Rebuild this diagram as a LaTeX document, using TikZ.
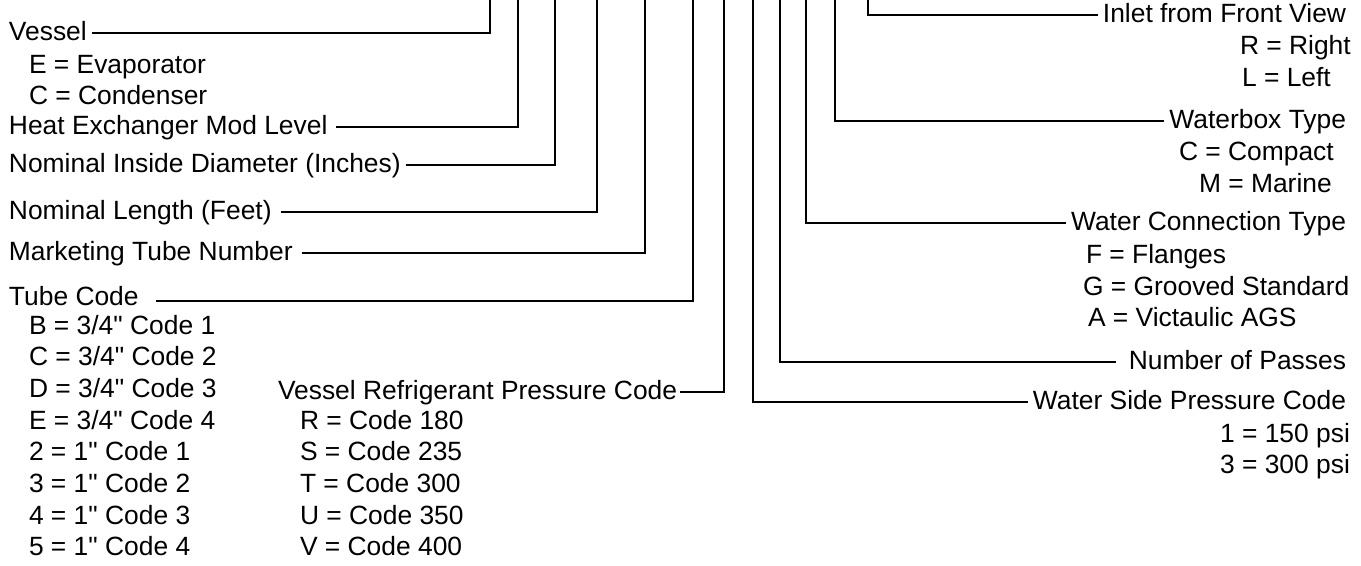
\documentclass[tikz,border=0pt]{standalone}
\usepackage{fontspec}
\setmainfont{Liberation Sans}

\begin{document}
\begin{tikzpicture}[x=0.5pt,y=-0.5pt,line width=1pt]
\tikzstyle{every node}=[inner sep=2pt,text height=0.72em,text depth=0pt,
	font=\fontsize{13.2}{16}\selectfont]
\tikzstyle{lbl}=[anchor=west]
\tikzstyle{rlbl}=[anchor=east]
\useasboundingbox (0,0) rectangle (1361,566);

% upper ends of the code lines
\coordinate (vesselTop) at (490,0);
\coordinate (modTop) at (518,0);
\coordinate (diamTop) at (555,0);
\coordinate (lengthTop) at (597,0);
\coordinate (tubeNoTop) at (645,0);
\coordinate (tubeTop) at (693,0);
\coordinate (refTop) at (724,0);
\coordinate (wspTop) at (753,0);
\coordinate (passTop) at (780,0);
\coordinate (connTop) at (806,0);
\coordinate (boxTop) at (835,0);
\coordinate (inletTop) at (868,0);

% left column
\node[lbl] (vessel) at (4,33) {Vessel};
\node[lbl] at (24,66) {E = Evaporator};
\node[lbl] at (24,97) {C = Condenser};
\node[lbl] (mod) at (4,127) {Heat Exchanger Mod Level};
\node[lbl] (diam) at (4,165) {Nominal Inside Diameter (Inches)};
\node[lbl] (length) at (4,212) {Nominal Length (Feet)};
\node[lbl] (tubeNo) at (4,253) {Marketing Tube Number};
\node[lbl] (tube) at (4,298) {Tube Code};
\node[lbl] at (24,327) {B = 3/4\textquotedbl{} Code 1};
\node[lbl] at (24,358) {C = 3/4\textquotedbl{} Code 2};
\node[lbl] at (24,390) {D = 3/4\textquotedbl{} Code 3};
\node[lbl] at (24,422) {E = 3/4\textquotedbl{} Code 4};
\node[lbl] at (24,453) {2 = 1\textquotedbl{} Code 1};
\node[lbl] at (24,485) {3 = 1\textquotedbl{} Code 2};
\node[lbl] at (24,517) {4 = 1\textquotedbl{} Code 3};
\node[lbl] at (24,548) {5 = 1\textquotedbl{} Code 4};

\node[lbl] (ref) at (273,392) {Vessel Refrigerant Pressure Code};
\node[lbl] at (295,422) {R = Code 180};
\node[lbl] at (295,453) {S = Code 235};
\node[lbl] at (295,485) {T = Code 300};
\node[lbl] at (295,517) {U = Code 350};
\node[lbl] at (295,548) {V = Code 400};

% right column
\node[rlbl] (inlet) at (1351,15) {Inlet from Front View};
\node[lbl] at (1235,47) {R = Right};
\node[lbl] at (1237,79) {L = Left};
\node[rlbl] (box) at (1351,121) {Waterbox Type};
\node[lbl] at (1174,153) {C = Compact};
\node[lbl] at (1194,185) {M = Marine};
\node[rlbl] (conn) at (1351,223) {Water Connection Type};
\node[lbl] at (1081,256) {F = Flanges};
\node[lbl] at (1078,288) {G = Grooved Standard};
\node[lbl] at (1083,319) {A = Victaulic AGS};
\node[rlbl] (pass) at (1351,362) {Number of Passes};
\node[rlbl] (wsp) at (1351,402) {Water Side Pressure Code};
\node[lbl] at (1215,435) {1 = 150 psi};
\node[lbl] at (1215,466) {3 = 300 psi};

% code lines
\draw (vessel.east) -| (vesselTop);
\draw ([xshift=2pt]mod.east) -| (modTop);
\draw (diam.east) -| (diamTop);
\draw ([xshift=2pt]length.east) -| (lengthTop);
\draw ([xshift=2pt]tubeNo.east) -| (tubeNoTop);
\draw ([xshift=6pt,yshift=-1.5pt]tube.east) -| (tubeTop);
\draw ([xshift=-1pt]ref.east) -| (refTop);
\draw (wsp.west) -| (wspTop);
\draw ([xshift=-4pt]pass.west) -| (passTop);
\draw (conn.west) -| (connTop);
\draw (box.west) -| (boxTop);
\draw (inlet.west) -| (inletTop);
\end{tikzpicture}
\end{document}
